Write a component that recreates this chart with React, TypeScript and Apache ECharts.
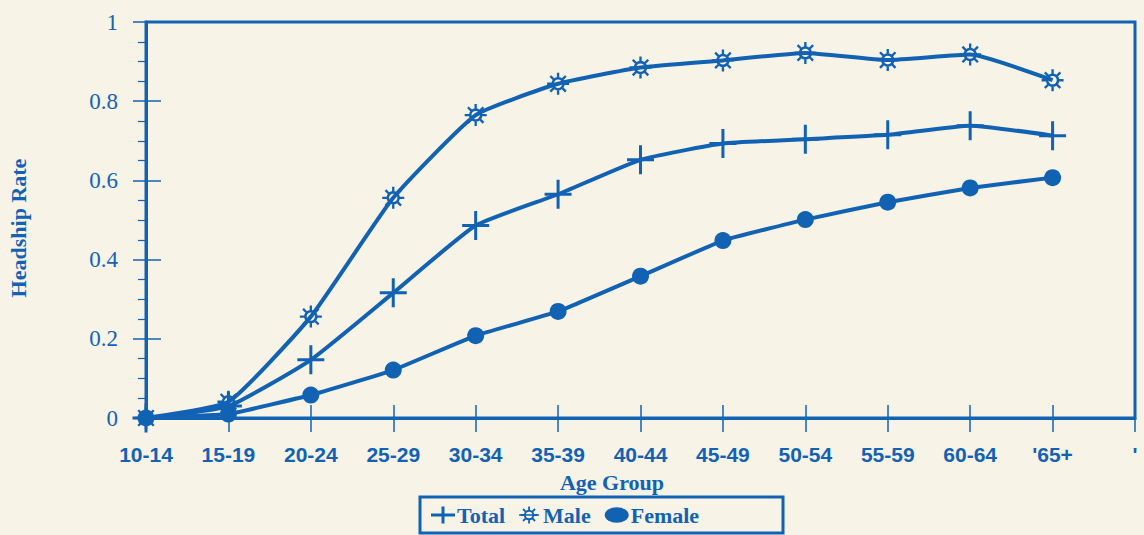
import React, { useEffect, useRef } from "react";
import * as echarts from "echarts";

const categories = ["10-14", "15-19", "20-24", "25-29", "30-34", "35-39", "40-44", "45-49", "50-54", "55-59", "60-64", "'65+", "'"];
const totalRates = [0, 0.03, 0.147, 0.316, 0.486, 0.565, 0.652, 0.693, 0.704, 0.715, 0.738, 0.713];
const maleRates = [0, 0.041, 0.256, 0.556, 0.765, 0.844, 0.885, 0.903, 0.922, 0.904, 0.918, 0.853];
const femaleRates = [0, 0.01, 0.058, 0.121, 0.208, 0.269, 0.358, 0.448, 0.501, 0.545, 0.581, 0.607];
const yTicks = [0, 0.2, 0.4, 0.6, 0.8, 1];

const BLUE = "#1262b4";
const BG = "#f7f3e6";

function sunPath(): string {
  const r1 = 6, r0 = 3.7, rs = 9.8, w = 1.05;
  let d = `M0,${-r1}A${r1},${r1} 0 1,1 0,${r1}A${r1},${r1} 0 1,1 0,${-r1}Z`;
  d += `M0,${-r0}A${r0},${r0} 0 1,0 0,${r0}A${r0},${r0} 0 1,0 0,${-r0}Z`;
  for (let k = 0; k < 8; k++) {
    const a = (k * Math.PI) / 4;
    const c = Math.cos(a), s = Math.sin(a);
    const p = (r: number, o: number) => `${(r * c - o * s).toFixed(2)},${(r * s + o * c).toFixed(2)}`;
    d += `M${p(r1 - 0.5, -w)}L${p(rs, -w)}L${p(rs, w)}L${p(r1 - 0.5, w)}Z`;
  }
  return d;
}

const PLUS = "path://M12,0h3v29h-3zM0,13h27v3h-27z";
const SUN = "path://" + sunPath();
const LEG_PLUS = "path://M0,7h24v3h-24zM10.5,0h3v17h-3z";
const LEG_SUN = "path://" + sunPath() + "M-11.5,-1h23v2h-23z";
const LEG_DOT = "path://M0,8A12.5,8 0 1,1 25,8A12.5,8 0 1,1 0,8Z";

export default function App() {
  const ref = useRef<HTMLDivElement>(null);
  useEffect(() => {
    if (!ref.current) return;
    const chart = echarts.init(ref.current, null, { renderer: "svg" });
    const grid = { left: 146, right: 9, top: 22, bottom: 117 };
    chart.setOption({
      animation: false,
      backgroundColor: BG,
      grid: { ...grid, show: true, borderColor: BLUE, borderWidth: 3, backgroundColor: "transparent" },
      xAxis: [
        {
          type: "category",
          data: categories,
          boundaryGap: false,
          position: "bottom",
          axisLine: { lineStyle: { color: BLUE, width: 3 } },
          axisTick: { show: true, length: 14, lineStyle: { color: BLUE, width: 1.5 } },
          axisLabel: { color: BLUE, fontFamily: "Liberation Sans", fontWeight: "bold", fontSize: 21, margin: 26, interval: 0 },
          splitLine: { show: false },
        },
        {
          type: "category",
          data: categories,
          boundaryGap: false,
          position: "bottom",
          offset: 0,
          axisLine: { show: false },
          axisTick: { show: true, inside: true, length: 13, lineStyle: { color: BLUE, width: 1.5 } },
          axisLabel: { show: false },
          splitLine: { show: false },
        },
      ],
      yAxis: [
        {
          type: "value",
          min: 0,
          max: 1,
          interval: 0.2,
          position: "left",
          axisLine: { show: true, lineStyle: { color: BLUE, width: 3 } },
          axisTick: { show: true, length: 13, lineStyle: { color: BLUE, width: 1.5 } },
          minorTick: { show: true, splitNumber: 4, length: 8, lineStyle: { color: BLUE, width: 1.2 } },
          axisLabel: {
            color: BLUE,
            fontFamily: "Liberation Serif",
            fontSize: 23,
            margin: 28,
            formatter: (v: number) => (yTicks.includes(Math.round(v * 10) / 10) ? String(Math.round(v * 10) / 10) : ""),
          },
          splitLine: { show: false },
        },
        {
          type: "value",
          min: 0,
          max: 1,
          interval: 0.2,
          position: "left",
          offset: 0,
          axisLine: { show: false },
          axisTick: { show: true, inside: true, length: 15, lineStyle: { color: BLUE, width: 1.5 } },
          axisLabel: { show: false },
          splitLine: { show: false },
        },
      ],
      legend: {
        left: 426,
        top: 499,
        itemWidth: 24,
        itemHeight: 17,
        itemGap: 14,
        textStyle: { color: BLUE, fontFamily: "Liberation Serif", fontWeight: "bold", fontSize: 22, padding: [0, 0, 0, -3] },
        data: [
          { name: "Total", icon: LEG_PLUS },
          { name: "Male", icon: LEG_SUN },
          { name: "Female", icon: LEG_DOT },
        ],
      },
      graphic: [
        {
          type: "rect",
          shape: { x: 420, y: 497, width: 363, height: 36 },
          style: { fill: "none", stroke: BLUE, lineWidth: 3 },
        },
        {
          type: "text",
          x: 612,
          y: 482,
          style: {
            text: "Age Group",
            fill: BLUE,
            font: "bold 22px 'Liberation Serif'",
            align: "center",
            verticalAlign: "middle",
          },
        },
        {
          type: "text",
          x: 18,
          y: 228,
          rotation: Math.PI / 2,
          style: {
            text: "Headship Rate",
            fill: BLUE,
            font: "bold 22px 'Liberation Serif'",
            align: "center",
            verticalAlign: "middle",
          },
        },
      ],
      series: [
        {
          name: "Total",
          type: "line",
          data: totalRates,
          smooth: 0.15,
          symbol: PLUS,
          symbolSize: [27, 29],
          showAllSymbol: true,
          lineStyle: { color: BLUE, width: 4 },
          itemStyle: { color: BLUE },
        },
        {
          name: "Male",
          type: "line",
          data: maleRates,
          smooth: 0.15,
          symbol: SUN,
          symbolSize: 22,
          showAllSymbol: true,
          lineStyle: { color: BLUE, width: 4 },
          itemStyle: { color: BLUE },
        },
        {
          name: "Female",
          type: "line",
          data: femaleRates,
          smooth: 0.1,
          symbol: "circle",
          symbolSize: 17,
          showAllSymbol: true,
          lineStyle: { color: BLUE, width: 4 },
          itemStyle: { color: BLUE },
        },
      ],
    });
    return () => chart.dispose();
  }, []);
  return (
    <div
      ref={ref}
      style={{ position: "absolute", left: 0, top: 0, width: 1144, height: 535, background: BG }}
    />
  );
}
